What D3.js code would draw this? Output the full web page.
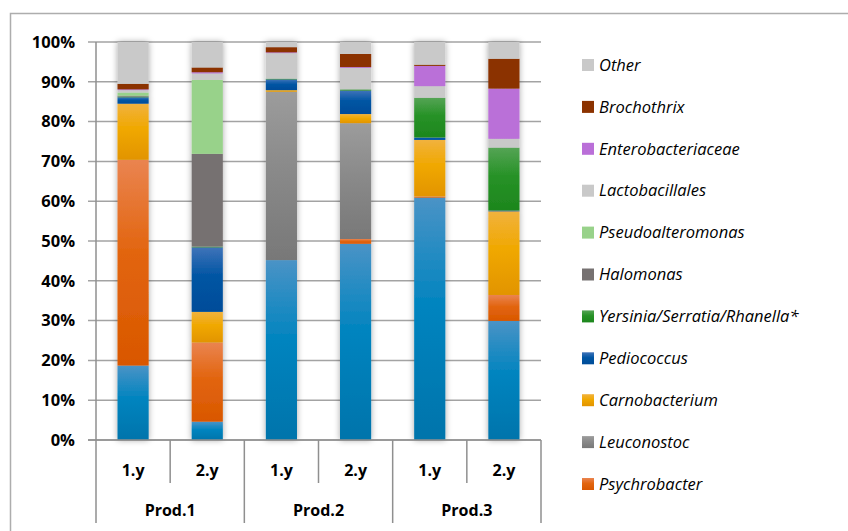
<!DOCTYPE html>
<html>
<head>
<meta charset="utf-8">
<script src="https://cdn.jsdelivr.net/npm/d3@7"></script>
<style>
  body { margin: 0; background: #fff; }
  svg { display: block; font-family: 'Open Sans', 'Noto Sans', sans-serif; }
</style>
</head>
<body>
<div id="chart-area"></div>
<script>
const years = ['1.y', '2.y', '1.y', '2.y', '1.y', '2.y']
const products = ['Prod.1', 'Prod.2', 'Prod.3']
const yTicks = [0, 0.1, 0.2, 0.3, 0.4, 0.5, 0.6, 0.7, 0.8, 0.9, 1]

// series from bottom to top (the bottom blue one is cut off from the legend)
const seriesNames = ['Photobacterium', 'Psychrobacter', 'Leuconostoc', 'Carnobacterium',
  'Pediococcus', 'Yersinia/Serratia/Rhanella*', 'Halomonas', 'Pseudoalteromonas',
  'Lactobacillales', 'Enterobacteriaceae', 'Brochothrix', 'Other']

const photobacterium      = [18.7, 4.6, 45.2, 49.3, 60.9, 29.9]
const psychrobacter       = [51.7, 19.9, 0, 1.2, 0.3, 6.5]
const leuconostoc         = [0, 0, 42.3, 29.1, 0, 0]
const carnobacterium      = [14.1, 7.7, 0.4, 2.3, 14.2, 21.0]
const pediococcus         = [1.6, 16.2, 2.7, 5.9, 0.6, 0.2]
const yersinia            = [0.2, 0.2, 0.2, 0.3, 10.0, 15.8]
const halomonas           = [0.2, 23.3, 0, 0, 0, 0]
const pseudoalteromonas   = [0.8, 18.6, 0, 0, 0, 0]
const lactobacillales     = [0.6, 1.6, 6.4, 5.4, 2.9, 2.2]
const enterobacteriaceae  = [0.2, 0.3, 0.2, 0.2, 5.1, 12.6]
const brochothrix         = [1.4, 1.2, 1.3, 3.3, 0.3, 7.5]
const other               = [10.5, 6.4, 1.3, 3.0, 5.7, 4.2]

const seriesValues = [photobacterium, psychrobacter, leuconostoc, carnobacterium,
  pediococcus, yersinia, halomonas, pseudoalteromonas, lactobacillales,
  enterobacteriaceae, brochothrix, other]

// [top, middle, bottom] gradient stops
const colors = [
  ['#4a93c6', '#0084bf', '#0074ab'],
  ['#ea8450', '#e2650f', '#d95700'],
  ['#9c9c9c', '#8a8a8a', '#787878'],
  ['#f1b23e', '#f0a800', '#e29400'],
  ['#3f73b9', '#0055a3', '#004c99'],
  ['#55a455', '#279227', '#1d861d'],
  ['#767171', '#767171', '#767171'],
  ['#98d28a', '#98d28a', '#98d28a'],
  ['#c9c9c9', '#c9c9c9', '#c9c9c9'],
  ['#ba6fd8', '#ba6fd8', '#ba6fd8'],
  ['#8b3200', '#8b3200', '#8b3200'],
  ['#c9c9c9', '#c9c9c9', '#c9c9c9']
]

const W = 848
const H = 531
const MARGIN = { LEFT: 96, RIGHT: 307, TOP: 42, BOTTOM: 91 }
const WIDTH = W - MARGIN.LEFT - MARGIN.RIGHT
const HEIGHT = H - MARGIN.TOP - MARGIN.BOTTOM

const svg = d3.select('#chart-area').append('svg')
  .attr('width', W)
  .attr('height', H)

const defs = svg.append('defs')
colors.forEach((c, i) => {
  const grad = defs.append('linearGradient')
    .attr('id', 'grad' + i)
    .attr('x1', 0).attr('y1', 0).attr('x2', 0).attr('y2', 1)
  grad.append('stop').attr('offset', '0%').attr('stop-color', c[0])
  grad.append('stop').attr('offset', '45%').attr('stop-color', c[1])
  grad.append('stop').attr('offset', '100%').attr('stop-color', c[2])
})
const shadow = defs.append('filter').attr('id', 'shadow')
  .attr('x', '-50%').attr('y', '-5%').attr('width', '200%').attr('height', '110%')
shadow.append('feDropShadow')
  .attr('dx', 0).attr('dy', 0).attr('stdDeviation', 3)
  .attr('flood-color', '#000').attr('flood-opacity', 0.35)

// outer chart border (only top and left edges are in view)
svg.append('rect')
  .attr('x', 10.5).attr('y', 13.5)
  .attr('width', 900).attr('height', 600)
  .attr('fill', 'none')
  .attr('stroke', '#adadad')
  .attr('stroke-width', 1.5)

const g = svg.append('g')
  .attr('transform', `translate(${MARGIN.LEFT}, ${MARGIN.TOP})`)

const keys = d3.range(6)
const x = d3.scaleBand()
  .domain(keys)
  .range([0, WIDTH])
  .paddingInner(0.58)
  .paddingOuter(0.29)
const y = d3.scaleLinear()
  .domain([0, 1])
  .range([HEIGHT, 0])

// gridlines with little outer ticks
g.append('g')
  .selectAll('line')
  .data(yTicks)
  .enter().append('line')
  .attr('x1', -8)
  .attr('x2', WIDTH)
  .attr('y1', d => y(d))
  .attr('y2', d => y(d))
  .attr('stroke', '#a3a3a3')
  .attr('stroke-width', 1.5)

// y axis labels
g.append('g')
  .selectAll('text')
  .data(yTicks)
  .enter().append('text')
  .attr('x', -21)
  .attr('y', d => y(d))
  .attr('dy', '0.35em')
  .attr('text-anchor', 'end')
  .attr('font-size', '16.5px')
  .attr('font-weight', 'bold')
  .attr('fill', '#000')
  .text(d3.format('.0%'))

// vertical axis line
g.append('line')
  .attr('x1', 0).attr('x2', 0)
  .attr('y1', 0).attr('y2', HEIGHT)
  .attr('stroke', '#8f8f8f')
  .attr('stroke-width', 1.5)

// stacked data, normalised to 100%
const rows = keys.map(i => {
  const row = {}
  const total = d3.sum(seriesValues, s => s[i])
  seriesValues.forEach((s, j) => { row[j] = s[i] / total })
  return row
})
const stack = d3.stack().keys(d3.range(seriesNames.length))
const stacked = stack(rows)

// bars, one group per column so each gets a shadow
const bars = g.append('g')
  .selectAll('g')
  .data(keys)
  .enter().append('g')
  .attr('filter', 'url(#shadow)')

bars.selectAll('rect')
  .data(i => stacked.map((layer, j) => ({ i, j, y0: layer[i][0], y1: layer[i][1] })))
  .enter().append('rect')
  .attr('x', d => x(d.i))
  .attr('width', x.bandwidth())
  .attr('y', d => y(d.y1))
  .attr('height', d => y(d.y0) - y(d.y1))
  .attr('fill', d => `url(#grad${d.j})`)

// category axis (two levels)
const step = x.step()
const cat = g.append('g').attr('transform', `translate(0, ${HEIGHT})`)
cat.append('line')
  .attr('x1', -8).attr('x2', WIDTH)
  .attr('y1', 0).attr('y2', 0)
  .attr('stroke', '#8f8f8f')
  .attr('stroke-width', 1.5)

cat.selectAll('.sep')
  .data(d3.range(7))
  .enter().append('line')
  .attr('x1', d => x(0) - x.paddingOuter() * step + d * step)
  .attr('x2', d => x(0) - x.paddingOuter() * step + d * step)
  .attr('y1', 0)
  .attr('y2', d => d % 2 === 0 ? 83 : 43)
  .attr('stroke', '#8f8f8f')
  .attr('stroke-width', 1.5)

cat.selectAll('.year')
  .data(keys)
  .enter().append('text')
  .attr('x', d => x(d) + x.bandwidth() / 2)
  .attr('y', 30)
  .attr('dy', '0.35em')
  .attr('text-anchor', 'middle')
  .attr('font-size', '16px')
  .attr('font-weight', 'bold')
  .text(d => years[d])

cat.selectAll('.prod')
  .data(products)
  .enter().append('text')
  .attr('x', (d, i) => (2 * i + 1) * step)
  .attr('y', 70)
  .attr('dy', '0.35em')
  .attr('text-anchor', 'middle')
  .attr('font-size', '16px')
  .attr('font-weight', 'bold')
  .text(d => d)

// legend, top entry first, bottom series clipped off in the original
const legendItems = d3.range(seriesNames.length - 1, 0, -1)
const legend = svg.append('g')
  .attr('transform', 'translate(582, 65)')
const item = legend.selectAll('g')
  .data(legendItems)
  .enter().append('g')
  .attr('transform', (d, i) => `translate(0, ${i * 41.9})`)
item.append('rect')
  .attr('x', 0).attr('y', -6)
  .attr('width', 12).attr('height', 12)
  .attr('fill', d => `url(#grad${d})`)
item.append('text')
  .attr('x', 17)
  .attr('y', 0)
  .attr('dy', '0.35em')
  .attr('font-size', '16.5px')
  .attr('font-style', 'italic')
  .attr('fill', '#000')
  .text(d => seriesNames[d])
</script>
</body>
</html>
